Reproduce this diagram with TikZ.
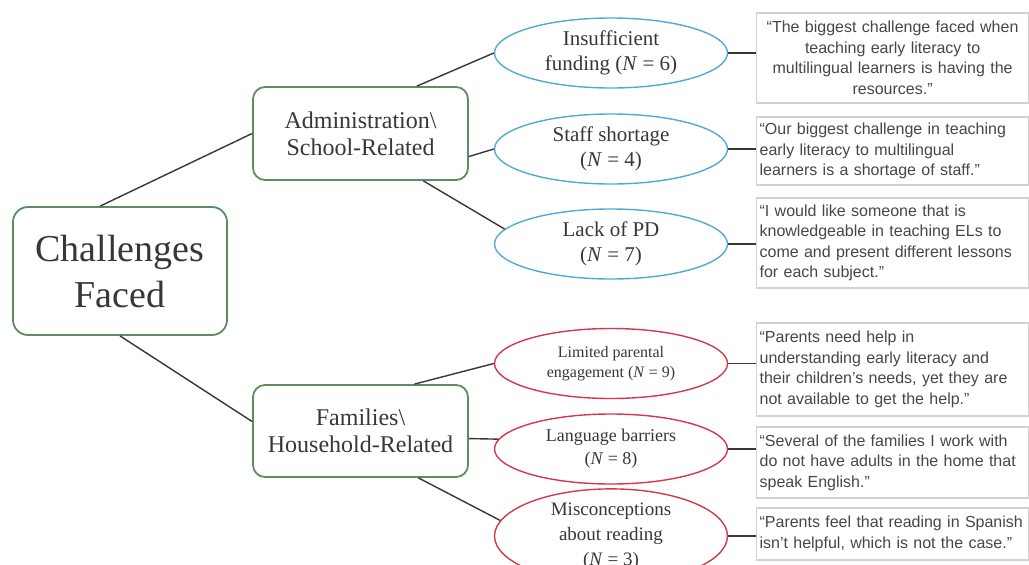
\documentclass[tikz,border=0pt]{standalone}
\usepackage{fontspec}
\setmainfont{Liberation Serif}
\newfontfamily\quotefont{Liberation Sans}
\usetikzlibrary{shapes.geometric}
\definecolor{boxgreen}{RGB}{96,140,96}
\definecolor{ovalblue}{RGB}{80,170,210}
\definecolor{ovalred}{RGB}{214,56,74}
\definecolor{quotegray}{RGB}{208,210,214}
\definecolor{inkgray}{RGB}{55,55,55}
\definecolor{quoteink}{RGB}{70,70,70}

\begin{document}
\begin{tikzpicture}[x=1pt,y=-1pt,
    theme/.style={draw=boxgreen,line width=1.8pt,rounded corners=12pt,fill=white,text=inkgray,align=center,inner sep=0pt},
    oval/.style={ellipse,draw,line width=1.4pt,minimum width=233pt,minimum height=70pt,inner sep=0pt,align=center,text=inkgray},
    quotebox/.style={draw=quotegray,line width=1.2pt,anchor=west,text width=266pt,inner xsep=3pt,inner ysep=0pt,align=left,font=\quotefont\fontsize{16}{20.5}\selectfont,text=quoteink},
    link/.style={draw=inkgray,line width=1.4pt}]
    \clip (0,0) rectangle (1029,565);

    \node[theme,minimum width=214pt,minimum height=128pt,rounded corners=15pt,font=\fontsize{38}{46}\selectfont] (root) at (120,271) {Challenges\\Faced};
    \node[theme,minimum width=215pt,minimum height=93pt,font=\fontsize{24}{27}\selectfont] (admin) at (360.5,133.5) {Administration\textbackslash\\School-Related};
    \node[theme,minimum width=215pt,minimum height=92pt,font=\fontsize{24}{27}\selectfont] (family) at (360.5,431) {Families\textbackslash\\Household-Related};

    \node[oval,draw=ovalblue,font=\fontsize{21}{25}\selectfont] (funding) at (611,53) {Insufficient\\funding (\textit{N} = 6)};
    \node[oval,draw=ovalblue,font=\fontsize{21}{25}\selectfont] (staff) at (611,149) {Staff shortage\\(\textit{N} = 4)};
    \node[oval,draw=ovalblue,font=\fontsize{21}{25}\selectfont] (pd) at (611,244) {Lack of PD\\(\textit{N} = 7)};
    \node[oval,draw=ovalred,font=\fontsize{16}{20}\selectfont] (engage) at (611,363.5) {Limited parental\\engagement (\textit{N} = 9)};
    \node[oval,draw=ovalred,font=\fontsize{18}{23}\selectfont] (language) at (611,449) {Language barriers\\(\textit{N} = 8)};
    \node[oval,draw=ovalred,font=\fontsize{19}{25}\selectfont] (misconc) at (611,536) {Misconceptions\\about reading\\(\textit{N} = 3)};

    \node[quotebox,align=center,minimum height=90pt] (qfunding) at (756,58) {“The biggest challenge faced when\\teaching early literacy to\\multilingual learners is having the\\resources.”};
    \node[quotebox,minimum height=68pt] (qstaff) at (756,151) {“Our biggest challenge in teaching\\early literacy to multilingual\\learners is a shortage of staff.”};
    \node[quotebox,minimum height=90pt] (qpd) at (756,243) {“I would like someone that is\\knowledgeable in teaching ELs to\\come and present different lessons\\for each subject.”};
    \node[quotebox,minimum height=93pt] (qengage) at (756,369.5) {“Parents need help in\\understanding early literacy and\\their children’s needs, yet they are\\not available to get the help.”};
    \node[quotebox,minimum height=71pt] (qlanguage) at (756,462.5) {“Several of the families I work with\\do not have adults in the home that\\speak English.”};
    \node[quotebox,minimum height=52pt] (qmisconc) at (756,534) {“Parents feel that reading in Spanish\\isn’t helpful, which is not the case.”};

    \draw[link] (root.107) -- (admin.west);
    \draw[link] (root.south) -- (family.175);
    \draw[link] (admin.40) -- (funding.west);
    \draw[link] (admin.-12) -- (staff.west);
    \draw[link] (admin.-37) -- (pd.172);
    \draw[link] (family.41) -- (engage.west);
    \draw[link] (family.-4) -- (language.175);
    \draw[link] (family.-39) -- (misconc.172);
    \foreach \a/\b in {funding/qfunding,staff/qstaff,pd/qpd,engage/qengage,language/qlanguage,misconc/qmisconc} {\draw[link] (\a.east) -- (\a.east -| \b.west);}
\end{tikzpicture}
\end{document}
